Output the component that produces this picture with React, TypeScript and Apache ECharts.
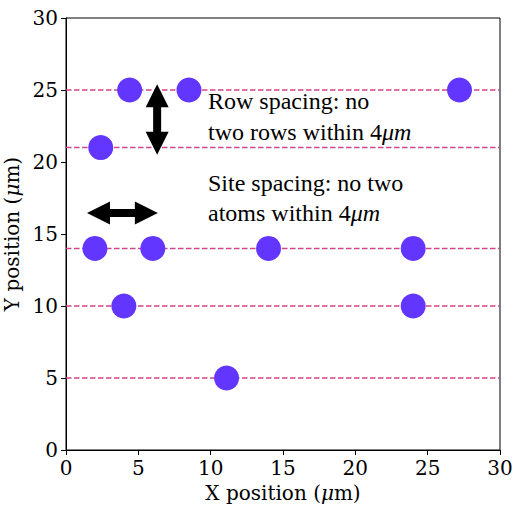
import React, { useEffect, useRef } from "react";
import * as echarts from "echarts";

const rowYs = [25, 21, 14, 10, 5];
const atomX = [4.4, 8.5, 27.2, 2.4, 2.0, 6.0, 14.0, 24.0, 4.0, 24.0, 11.1];
const atomY = [25, 25, 25, 21, 14, 14, 14, 14, 10, 10, 5];
const arrows = [
  [6.3, 20.5, 6.3, 25.4],
  [1.45, 16.45, 6.35, 16.45],
];
const xTicks = [0, 30, 5];
const yTicks = [0, 30, 5];

const serif = "DejaVu Serif";
const noteFont = "Liberation Serif";

function arrowPoly(a: number[], b: number[]) {
  const hl = 23, hw = 11.5, sw = 4;
  const dx = b[0] - a[0], dy = b[1] - a[1];
  const len = Math.hypot(dx, dy) || 1;
  const ux = dx / len, uy = dy / len;
  const nx = -uy, ny = ux;
  const P = (base: number[], u: number, n: number) => [
    base[0] + ux * u + nx * n,
    base[1] + uy * u + ny * n,
  ];
  return [
    a,
    P(a, hl, hw),
    P(a, hl, sw),
    P(b, -hl, sw),
    P(b, -hl, hw),
    b,
    P(b, -hl, -hw),
    P(b, -hl, -sw),
    P(a, hl, -sw),
    P(a, hl, -hw),
  ];
}

export default function App() {
  const ref = useRef<HTMLDivElement>(null);
  useEffect(() => {
    if (!ref.current) return;
    document.body.style.margin = "0";
    const chart = echarts.init(ref.current, null, { renderer: "svg" });
    const noteRich = {
      i: { fontFamily: noteFont, fontStyle: "italic", fontSize: 24, fill: "#000" },
    };
    const note = (text: string, top: number) => ({
      type: "text",
      left: 208,
      top,
      style: {
        text,
        font: `24px "${noteFont}"`,
        fill: "#000",
        rich: noteRich,
      },
    });
    const axisCommon = {
      type: "value" as const,
      axisLine: { show: true, onZero: false, lineStyle: { color: "#000", width: 1 } },
      axisTick: { show: true, inside: false, length: 5, lineStyle: { color: "#000" } },
      splitLine: { show: false },
      axisLabel: { fontFamily: serif, fontSize: 20, color: "#000", margin: 8 },
      nameLocation: "middle" as const,
      nameTextStyle: {
        fontFamily: serif,
        fontSize: 20,
        color: "#000",
        rich: { i: { fontFamily: serif, fontSize: 20, fontStyle: "italic", color: "#000" } },
      },
    };
    chart.setOption({
      animation: false,
      grid: {
        left: 66,
        right: 13,
        top: 18,
        bottom: 59,
        containLabel: false,
        outerBoundsMode: "none",
        show: true,
        borderColor: "#000",
        borderWidth: 1,
        backgroundColor: "transparent",
      },
      xAxis: {
        ...axisCommon,
        min: xTicks[0],
        max: xTicks[1],
        interval: xTicks[2],
        name: "X position ({i|μ}m)",
        nameGap: 31,
      },
      yAxis: {
        ...axisCommon,
        min: yTicks[0],
        max: yTicks[1],
        interval: yTicks[2],
        name: "Y position ({i|μ}m)",
        nameGap: 35,
      },
      series: [
        ...rowYs.map((y) => ({
          type: "line",
          data: [
            [xTicks[0], y],
            [xTicks[1], y],
          ],
          symbol: "none",
          silent: true,
          lineStyle: { color: "#d0448a", width: 1.5, type: [5.5, 2.5] },
          z: 1,
        })),
        {
          type: "scatter",
          data: atomX.map((x, i) => [x, atomY[i]]),
          symbolSize: 25,
          itemStyle: { color: "#6236ff", opacity: 1 },
          z: 3,
        },
        {
          type: "custom",
          data: arrows,
          encode: { x: [0, 2], y: [1, 3] },
          z: 4,
          renderItem: (params: any, api: any) => {
            const a = api.coord([api.value(0), api.value(1)]);
            const b = api.coord([api.value(2), api.value(3)]);
            return {
              type: "polygon",
              shape: { points: arrowPoly(a, b) },
              style: { fill: "#000" },
            };
          },
        },
      ],
      graphic: [
        note("Row spacing: no", 89),
        note("two rows within 4{i|μm}", 120),
        note("Site spacing: no two", 171),
        note("atoms within 4{i|μm}", 201),
      ],
    });
    return () => chart.dispose();
  }, []);
  return <div ref={ref} style={{ width: 513, height: 509 }} />;
}
